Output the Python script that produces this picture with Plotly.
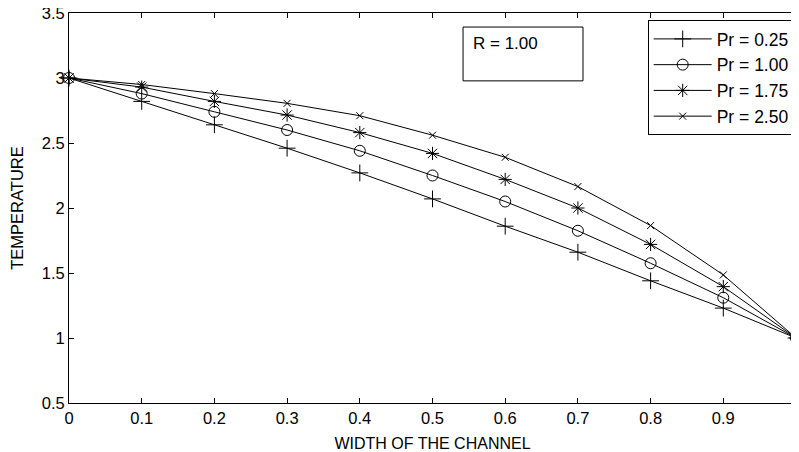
import plotly.graph_objects as go

width_x = [0, 0.1, 0.2, 0.3, 0.4, 0.5, 0.6, 0.7, 0.8, 0.9, 1.0]
temp_pr025 = [3.0, 2.82, 2.64, 2.46, 2.27, 2.07, 1.86, 1.66, 1.44, 1.23, 1.0]
temp_pr100 = [3.0, 2.88, 2.74, 2.60, 2.44, 2.25, 2.05, 1.825, 1.575, 1.31, 1.0]
temp_pr175 = [3.0, 2.93, 2.82, 2.715, 2.58, 2.42, 2.22, 2.0, 1.72, 1.395, 1.0]
temp_pr250 = [3.0, 2.95, 2.88, 2.805, 2.71, 2.56, 2.39, 2.165, 1.865, 1.485, 1.0]
series_names = ["Pr = 0.25", "Pr = 1.00", "Pr = 1.75", "Pr = 2.50"]
y_ticks = [0.5, 1, 1.5, 2, 2.5, 3, 3.5]
x_ticks = [0, 0.1, 0.2, 0.3, 0.4, 0.5, 0.6, 0.7, 0.8, 0.9, 1.0]

FONT = "Liberation Sans, Arial, sans-serif"
symbols = ["cross-thin-open", "circle-open", "asterisk-open", "x-thin-open"]
sizes = [12, 11, 11, 7]

fig = go.Figure()
for i, (name, ys) in enumerate(zip(series_names, [temp_pr025, temp_pr100, temp_pr175, temp_pr250])):
    fig.add_trace(go.Scatter(
        x=width_x, y=ys, name=name, mode="lines+markers",
        line=dict(color="black", width=1),
        marker=dict(symbol=symbols[i], size=sizes[i], color="black",
                    line=dict(color="black", width=1)),
        legendgroup=name, cliponaxis=False,
    ))

axis_common = dict(
    showline=True, linecolor="black", linewidth=1, mirror="ticks",
    ticks="inside", ticklen=5, tickcolor="black", tickwidth=1,
    showgrid=False, zeroline=False, automargin=False,
    ticklabeloverflow="allow",
    tickfont=dict(family=FONT, size=16.5, color="black"),
)

fig.update_xaxes(range=[0, 1], tickvals=x_ticks,
                 title=dict(text="WIDTH OF THE CHANNEL",
                            font=dict(family=FONT, size=16, color="black")),
                 **axis_common)
fig.update_yaxes(range=[0.5, 3.5], tickvals=y_ticks,
                 title=dict(text="TEMPERATURE",
                            font=dict(family=FONT, size=16.5, color="black")),
                 **axis_common)

fig.add_shape(type="rect", xref="paper", yref="paper",
              x0=0.542, x1=0.707, y0=0.826, y1=0.964,
              line=dict(color="black", width=1), fillcolor="white", layer="above")
fig.add_annotation(xref="paper", yref="paper", x=0.553, y=0.952,
                   xanchor="left", yanchor="top", text="R = 1.00", showarrow=False,
                   font=dict(family=FONT, size=17, color="black"))

# the page body adds an 8px offset; the figure is sized so its plot area lands where the reference's does
fig.update_layout(
    width=791, height=444,
    margin=dict(l=61, r=3, t=5, b=49),
    paper_bgcolor="white", plot_bgcolor="white",
    font=dict(family=FONT, size=16, color="black"),
    legend=dict(x=0.796, y=0.982, xanchor="left", yanchor="top",
                bordercolor="black", borderwidth=1, bgcolor="white",
                itemwidth=58, tracegroupgap=0,
                font=dict(family=FONT, size=17.5, color="black")),
    showlegend=True,
)

fig.write_html("out.html")
